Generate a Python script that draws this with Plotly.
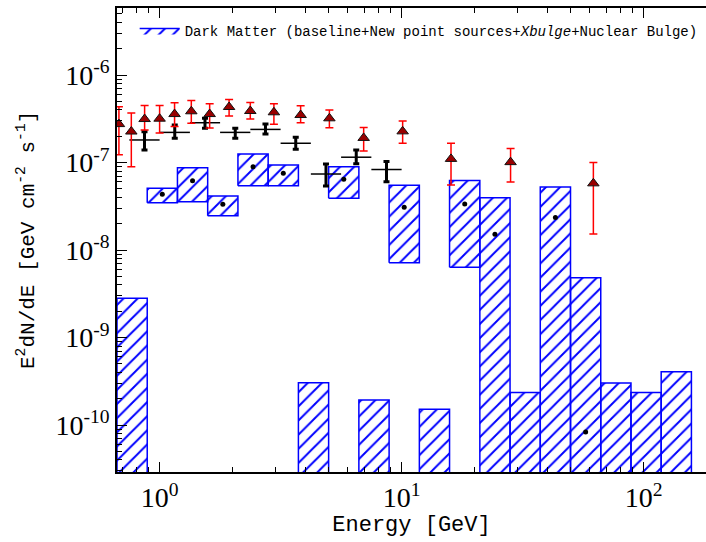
import math
import plotly.graph_objects as go

# ---------------- data ----------------
# Dark matter spectrum: bin edges [GeV] and box limits
dm_edges = [0.6667, 0.8889, 1.185, 1.580, 2.107, 2.809, 3.746, 4.994, 6.659, 8.879,
            11.84, 15.78, 21.05, 28.06, 37.41, 49.88, 66.51, 88.68, 118.2, 157.6]
dm_hi = [2.81e-9, 5.07e-8, 8.72e-8, 4.14e-8, 1.25e-7, 9.36e-8, 3.04e-10, 8.95e-8, 1.93e-10, 5.49e-8,
         1.51e-10, 6.22e-8, 3.96e-8, 2.36e-10, 5.25e-8, 4.82e-9, 3.02e-10, 2.36e-10, 4.07e-10]
dm_lo = [1e-12, 3.47e-8, 3.56e-8, 2.47e-8, 5.43e-8, 5.43e-8, 1e-12, 3.90e-8, 1e-12, 7.16e-9,
         1e-12, 6.34e-9, 1e-12, 1e-12, 1e-12, 1e-12, 1e-12, 1e-12, 1e-12]
dm_center_E = [0.770, 1.026, 1.368, 1.825, 2.433, 3.244, 4.325, 5.767, 7.689, 10.25,
               13.67, 18.23, 24.30, 32.40, 43.20, 57.60, 76.80, 102.4, 136.5]
dm_center = [None, 4.33e-8, 6.19e-8, 3.33e-8, 8.95e-8, 7.53e-8, None, 6.43e-8, None, 3.08e-8,
             None, 3.36e-8, 1.51e-8, None, 2.36e-8, 8.3e-11, None, None, None]

# Black data points
blk_E = [0.866, 1.155, 1.540, 2.054, 2.738, 3.652, 4.870, 6.494, 8.660]
blk_E_lo = [0.75, 1.0, 1.334, 1.778, 2.371, 3.162, 4.217, 5.623, 7.499]
blk_E_hi = [1.0, 1.334, 1.778, 2.371, 3.162, 4.217, 5.623, 7.499, 10.0]
blk_y = [1.81e-7, 2.21e-7, 2.85e-7, 2.21e-7, 2.39e-7, 1.66e-7, 7.39e-8, 1.15e-7, 8.32e-8]
blk_y_hi = [2.25e-7, 2.68e-7, 3.20e-7, 2.46e-7, 2.75e-7, 1.94e-7, 9.61e-8, 1.39e-7, 1.03e-7]
blk_y_lo = [1.39e-7, 1.89e-7, 2.46e-7, 1.89e-7, 2.12e-7, 1.42e-7, 5.39e-8, 9.69e-8, 6.03e-8]

# Red triangle points
red_E = [0.679, 0.764, 0.867, 1.0, 1.153, 1.352, 1.61, 1.937, 2.37, 2.967, 3.826, 5.03,
         6.97, 10.1, 16.0, 28.2, 62.0]
red_y = [2.75e-7, 2.26e-7, 3.14e-7, 3.17e-7, 3.58e-7, 3.85e-7, 3.58e-7, 4.31e-7, 3.88e-7,
         3.75e-7, 3.49e-7, 3.20e-7, 1.91e-7, 2.27e-7, 1.10e-7, 1.01e-7, 5.78e-8]
red_y_hi = [4.35e-7, 3.68e-7, 4.48e-7, 4.48e-7, 4.83e-7, 5.11e-7, 4.70e-7, 5.25e-7, 4.85e-7,
            4.70e-7, 4.45e-7, 3.98e-7, 2.51e-7, 2.98e-7, 1.66e-7, 1.45e-7, 1.00e-7]
red_y_lo = [1.23e-7, 8.95e-8, 2.35e-7, 2.17e-7, 2.58e-7, 2.81e-7, 2.48e-7, 3.40e-7, 3.14e-7,
            2.74e-7, 2.85e-7, 2.50e-7, 1.35e-7, 1.66e-7, 5.53e-8, 5.98e-8, 1.52e-8]

x_tickvals = [1, 10, 100]
x_ticktext = ["10<sup>0</sup>", "10<sup>1</sup>", "10<sup>2</sup>"]
y_tickvals = [1e-10, 1e-9, 1e-8, 1e-7, 1e-6]
y_ticktext = ["10<sup>-10</sup>", "10<sup>-9</sup>", "10<sup>-8</sup>", "10<sup>-7</sup>", "10<sup>-6</sup>"]

legend_name = "Dark Matter (baseline+New point sources+<i>Xbulge</i>+Nuclear Bulge)"
x_title = "Energy [GeV]"
y_title = "E<sup>2</sup>dN/dE [GeV cm<sup>-2</sup> s<sup>-1</sup>]"

# ---------------- figure ----------------
fig = go.Figure()

bx, by = [], []
for i in range(len(dm_hi)):
    x0, x1 = dm_edges[i], dm_edges[i + 1]
    y0, y1 = dm_lo[i], dm_hi[i]
    bx += [x0, x1, x1, x0, x0, None]
    by += [y0, y0, y1, y1, y0, None]

fig.add_trace(go.Scatter(
    x=bx, y=by, mode="lines", fill="toself",
    line=dict(color="#0000ff", width=1.5),
    fillcolor="white",
    fillpattern=dict(shape="/", fgcolor="#0000ff", fgopacity=1, bgcolor="white",
                     size=10, solidity=0.2),
    name=legend_name, showlegend=True, hoverinfo="skip",
))

fig.add_trace(go.Scatter(
    x=dm_center_E, y=dm_center, mode="markers",
    marker=dict(color="black", size=5), showlegend=False,
))

fig.add_trace(go.Scatter(
    x=blk_E, y=blk_y, mode="markers",
    marker=dict(color="black", size=1),
    error_x=dict(type="data", symmetric=False,
                 array=[h - c for h, c in zip(blk_E_hi, blk_E)],
                 arrayminus=[c - l for l, c in zip(blk_E_lo, blk_E)],
                 color="black", thickness=1.5, width=0),
    error_y=dict(type="data", symmetric=False,
                 array=[h - c for h, c in zip(blk_y_hi, blk_y)],
                 arrayminus=[c - l for l, c in zip(blk_y_lo, blk_y)],
                 color="black", thickness=3, width=3),
    showlegend=False,
))

fig.add_trace(go.Scatter(
    x=red_E, y=red_y, mode="markers",
    marker=dict(symbol="triangle-up", color="#990000", size=10,
                line=dict(color="#111111", width=1)),
    error_y=dict(type="data", symmetric=False,
                 array=[h - c for h, c in zip(red_y_hi, red_y)],
                 arrayminus=[c - l for l, c in zip(red_y_lo, red_y)],
                 color="#ff0000", thickness=1.5, width=4),
    showlegend=False,
))

tick_font = dict(family="Liberation Serif", size=28, color="black")
title_font = dict(family="Liberation Mono", size=22, color="black")

fig.update_layout(
    width=706, height=542,
    margin=dict(l=117, r=0, t=8, b=70),
    paper_bgcolor="white", plot_bgcolor="white",
    showlegend=True,
    legend=dict(x=0.03, y=0.985, xanchor="left", yanchor="top",
                bgcolor="rgba(0,0,0,0)", borderwidth=0,
                font=dict(family="Liberation Mono", size=14, color="black"),
                itemwidth=40),
    annotations=[dict(
        text=y_title, textangle=-90, showarrow=False,
        xref="paper", yref="paper", x=(26 - 117) / 589, y=0.5,
        xanchor="center", yanchor="middle",
        font=dict(family="Liberation Mono", size=21, color="black"),
    )],
)

fig.update_xaxes(
    type="log", range=[math.log10(0.6667), math.log10(0.6667) + 589 / 242],
    showgrid=False, zeroline=False,
    showline=True, linecolor="black", linewidth=1.5, mirror="ticks",
    ticks="inside", ticklen=10, tickwidth=1.2, tickcolor="black",
    tickmode="array", tickvals=x_tickvals, ticktext=x_ticktext, tickfont=tick_font,
    minor=dict(ticks="inside", ticklen=5, tickwidth=1, tickcolor="black", showgrid=False,
               dtick="D1"),
    title=dict(text=x_title, font=title_font, standoff=2),
)
fig.update_yaxes(
    type="log", range=[-10.537, -5.234],
    showgrid=False, zeroline=False,
    showline=True, linecolor="black", linewidth=1.5, mirror=False,
    ticks="inside", ticklen=10, tickwidth=1.2, tickcolor="black",
    tickmode="array", tickvals=y_tickvals, ticktext=y_ticktext, tickfont=tick_font,
    minor=dict(ticks="inside", ticklen=5, tickwidth=1, tickcolor="black", showgrid=False,
               dtick="D1"),
)

fig.write_html("out.html")
